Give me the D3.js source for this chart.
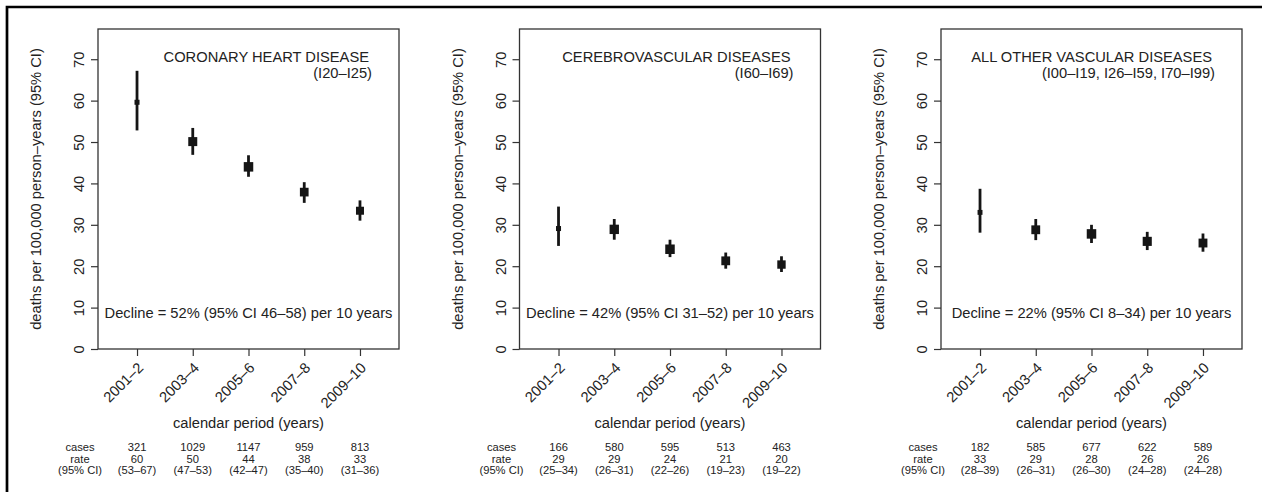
<!DOCTYPE html>
<html>
<head>
<meta charset="utf-8">
<script src="https://cdn.jsdelivr.net/npm/d3@7"></script>
<style>
  body { margin: 0; background: #fff; }
  text { font-family: "Liberation Sans", Arial, sans-serif; fill: #222; }
  .domain { display: none; }
  .tick line { stroke: #333; stroke-width: 1.2; }
</style>
</head>
<body>
<div id="chart"></div>
<script>
var periods = ["2001–2", "2003–4", "2005–6", "2007–8", "2009–10"];
var titles = ["CORONARY HEART DISEASE", "CEREBROVASCULAR DISEASES", "ALL OTHER VASCULAR DISEASES"];
var codes = ["(I20–I25)", "(I60–I69)", "(I00–I19, I26–I59, I70–I99)"];
var declines = [
  "Decline = 52% (95% CI 46–58) per 10 years",
  "Decline = 42% (95% CI 31–52) per 10 years",
  "Decline = 22% (95% CI 8–34) per 10 years"
];
var cases = [
  [321, 1029, 1147, 959, 813],
  [166, 580, 595, 513, 463],
  [182, 585, 677, 622, 589]
];
var rates = [
  [59.6, 50.1, 44.0, 37.9, 33.4],
  [29.1, 28.9, 24.1, 21.3, 20.4],
  [33.0, 28.8, 27.8, 26.0, 25.6]
];
var lower = [
  [52.8, 46.9, 41.6, 35.3, 31.0],
  [24.9, 26.4, 22.2, 19.4, 18.6],
  [28.1, 26.3, 25.6, 23.9, 23.5]
];
var upper = [
  [67.2, 53.4, 46.8, 40.3, 35.9],
  [34.4, 31.4, 26.4, 23.3, 22.4],
  [38.7, 31.4, 30.0, 28.3, 27.9]
];
var yTicks = [0, 10, 20, 30, 40, 50, 60, 70];

var svgWidth = 1262, svgHeight = 492;
var panelW = 301, panelStep = 421.5, firstLeft = 98;
var plotTop = 29, plotBottom = 349;
var fs = 14.7;

var svg = d3.select("#chart").append("svg")
  .attr("width", svgWidth)
  .attr("height", svgHeight);

// outer frame (only top and left edges show)
svg.append("path")
  .attr("d", "M7,492V7H1262")
  .attr("fill", "none")
  .attr("stroke", "#000")
  .attr("stroke-width", 2.7);

var yScale = d3.scaleLinear().domain([0, 77.3]).range([plotBottom, plotTop]);
var r0 = d => Math.round(d);

titles.forEach(function(title, p) {
  var left = firstLeft + p * panelStep;
  var g = svg.append("g").attr("transform", `translate(${left},0)`);

  var xScale = d3.scaleLinear().domain([0.3, 5.7]).range([0, panelW]);
  var size = d3.scaleSqrt().domain([0, d3.max(cases[p])]).range([0, 9.5]);

  // axes
  var yAxis = g.append("g")
    .call(d3.axisLeft(yScale).tickValues(yTicks).tickSize(7).tickPadding(0));
  yAxis.selectAll(".tick text")
    .attr("font-size", fs)
    .attr("text-anchor", "middle")
    .attr("transform", "translate(-19,0) rotate(-90)")
    .attr("x", 0).attr("dy", "0.35em");

  var xAxis = g.append("g")
    .attr("transform", `translate(0,${plotBottom})`)
    .call(d3.axisBottom(xScale).tickValues([1, 2, 3, 4, 5])
      .tickFormat(i => periods[i - 1]).tickSize(7));
  xAxis.selectAll(".tick text")
    .attr("font-size", fs)
    .attr("text-anchor", "end")
    .attr("y", 0).attr("dy", "0.35em")
    .attr("transform", "translate(3,16) rotate(-45)");

  g.append("rect")
    .attr("x", 0).attr("y", plotTop)
    .attr("width", panelW).attr("height", plotBottom - plotTop)
    .attr("fill", "none").attr("stroke", "#333").attr("stroke-width", 1.3);

  // error bars and point squares
  var pts = periods.map((d, i) => ({i: i + 1, n: cases[p][i], rate: rates[p][i], lo: lower[p][i], hi: upper[p][i]}));
  g.selectAll(".ci").data(pts).enter().append("line")
    .attr("x1", d => xScale(d.i)).attr("x2", d => xScale(d.i))
    .attr("y1", d => yScale(d.lo)).attr("y2", d => yScale(d.hi))
    .attr("stroke", "#151515").attr("stroke-width", 2.8);
  g.selectAll(".pt").data(pts).enter().append("rect")
    .attr("x", d => xScale(d.i) - size(d.n) / 2)
    .attr("y", d => yScale(d.rate) - size(d.n) / 2)
    .attr("width", d => size(d.n)).attr("height", d => size(d.n))
    .attr("fill", "#151515");

  // labels inside the box
  g.append("text")
    .attr("x", panelW - 30).attr("y", 62)
    .attr("text-anchor", "end").attr("font-size", fs)
    .text(title);
  g.append("text")
    .attr("x", panelW - 27).attr("y", 78)
    .attr("text-anchor", "end").attr("font-size", fs)
    .text(codes[p]);
  g.append("text")
    .attr("x", panelW / 2).attr("y", 318)
    .attr("text-anchor", "middle").attr("font-size", fs)
    .text(declines[p]);

  // axis titles
  g.append("text")
    .attr("transform", `translate(-62,${(plotTop + plotBottom) / 2}) rotate(-90)`)
    .attr("text-anchor", "middle").attr("dy", "0.35em").attr("font-size", fs)
    .text("deaths per 100,000 person–years (95% CI)");
  g.append("text")
    .attr("x", panelW / 2).attr("y", 428)
    .attr("text-anchor", "middle").attr("font-size", fs)
    .text("calendar period (years)");

  // table under the axis
  var rowY = [451, 462.5, 474];
  ["cases", "rate", "(95% CI)"].forEach(function(lab, k) {
    g.append("text")
      .attr("x", -18).attr("y", rowY[k])
      .attr("text-anchor", "middle").attr("font-size", 11.2)
      .text(lab);
  });
  var cols = g.selectAll(".col").data(pts).enter().append("g")
    .attr("transform", d => `translate(${xScale(d.i)},0)`);
  cols.append("text").attr("y", rowY[0]).attr("text-anchor", "middle").attr("font-size", 11.2)
    .text(d => d.n);
  cols.append("text").attr("y", rowY[1]).attr("text-anchor", "middle").attr("font-size", 11.2)
    .text(d => r0(d.rate));
  cols.append("text").attr("y", rowY[2]).attr("text-anchor", "middle").attr("font-size", 11.2)
    .text(d => `(${r0(d.lo)}–${r0(d.hi)})`);
});
</script>
</body>
</html>
